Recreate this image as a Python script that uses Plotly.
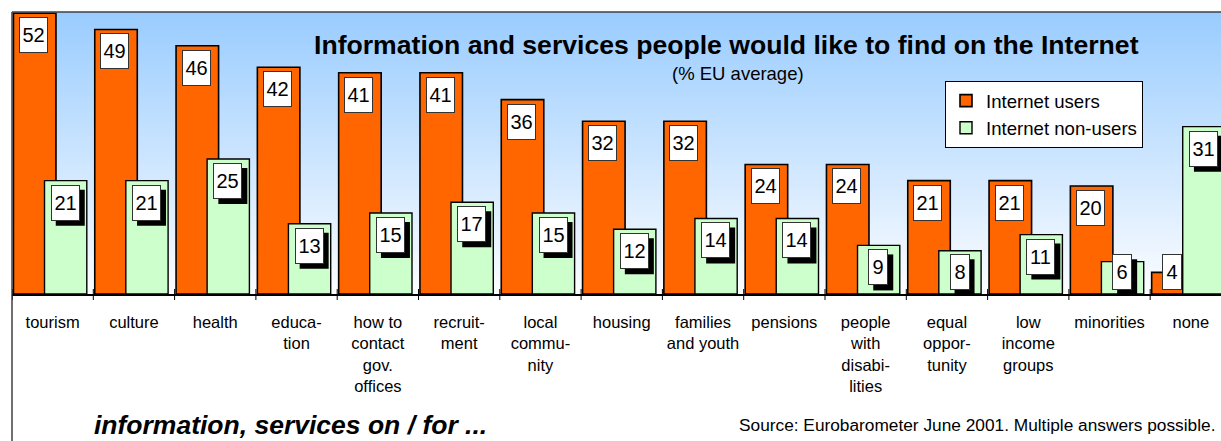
import plotly.graph_objects as go

categories = ["tourism", "culture", "health", "educa-<br>tion", "how to<br>contact<br>gov.<br>offices",
              "recruit-<br>ment", "local<br>commu-<br>nity", "housing", "families<br>and youth",
              "pensions", "people<br>with<br>disabi-<br>lities", "equal<br>oppor-<br>tunity",
              "low<br>income<br>groups", "minorities", "none"]
users = [52, 49, 46, 42, 41, 41, 36, 32, 32, 24, 24, 21, 21, 20, 4]
non_users = [21, 21, 25, 13, 15, 17, 15, 12, 14, 14, 9, 8, 11, 6, 31]

FONT = "Liberation Sans, Arial, sans-serif"
ORANGE = "#FF6600"
GREEN = "#CCFFCC"

W, H = 1221, 441
ML, MR, MT, MB = 12, 0, 12, 147
plot_w = W - ML - MR
plot_h = H - MT - MB
cat_px = 81.3
x_end = -0.5 + plot_w / cat_px
y_top = 52.24

fig = go.Figure()
fig.add_trace(go.Bar(
    x=list(range(len(categories))), y=users, name="Internet users",
    width=0.523, offset=-0.482,
    marker=dict(color=ORANGE, line=dict(color="black", width=1.6)),
    legendgroup="a"))
fig.add_trace(go.Bar(
    x=list(range(len(categories))), y=non_users, name="Internet non-users",
    width=0.52, offset=-0.10,
    marker=dict(color=GREEN, line=dict(color="black", width=1.4)),
    legendgroup="b"))

shapes = []
# gradient background
N = 141
top_c = (153, 204, 255)
bot_c = (252, 253, 255)
for i in range(N):
    t = (i + 0.5) / N
    c = tuple(round(bot_c[k] + (top_c[k] - bot_c[k]) * t) for k in range(3))
    shapes.append(dict(type="rect", xref="paper", yref="paper", x0=0, x1=1,
                       y0=i / N, y1=(i + 1) / N, fillcolor="rgb(%d,%d,%d)" % c,
                       line=dict(width=0), layer="below"))
# frame (left and top)
shapes.append(dict(type="line", xref="paper", yref="paper", x0=0, x1=0, y0=-0.7, y1=1,
                   line=dict(color="#404040", width=1.5)))
shapes.append(dict(type="line", xref="paper", yref="paper", x0=0, x1=1.05, y0=1, y1=1,
                   line=dict(color="#404040", width=1.5)))
# category boundary ticks crossing the axis
for i in range(len(categories) + 1):
    shapes.append(dict(type="line", xref="x", yref="paper", x0=i - 0.5, x1=i - 0.5,
                       y0=-6 / plot_h, y1=5 / plot_h, line=dict(color="black", width=1)))

annotations = []
label_font = dict(family=FONT, size=20, color="black")
BOX_H = 30
PAD = 2


def add_label(xpos, val, shadow):
    ytop = max(val, 8.1)
    tw = 23 if val >= 10 else 14
    outer_w = tw + 2 * PAD + 2
    outer_h = BOX_H + 2 * PAD + 2
    if shadow:
        shapes.append(dict(type="rect", xref="x", yref="y", layer="above",
                           xsizemode="pixel", ysizemode="pixel",
                           xanchor=xpos, yanchor=ytop,
                           x0=-outer_w / 2 + 5, x1=outer_w / 2 + 5,
                           y0=-4 - 5 - outer_h, y1=-4 - 5,
                           fillcolor="black", line=dict(width=0)))
    annotations.append(dict(x=xpos, y=ytop, xref="x", yref="y", text=str(val),
                            showarrow=False, xanchor="center", yanchor="top",
                            yshift=-4, width=tw, height=BOX_H, borderpad=PAD, font=label_font,
                            bgcolor="white", bordercolor="#333333", borderwidth=1))


for i, v in enumerate(users):
    add_label(i - 0.235, v, False)
for i, v in enumerate(non_users):
    add_label(i + 0.155, v, True)

annotations.append(dict(
    x=(726 - ML) / plot_w, y=(294 - 45) / plot_h, xref="paper", yref="paper",
    text="<b>Information and services people would like to find on the Internet</b>",
    showarrow=False, xanchor="center", yanchor="middle",
    font=dict(family=FONT, size=26.6, color="black")))
annotations.append(dict(
    x=(738 - ML) / plot_w, y=(294 - 73) / plot_h, xref="paper", yref="paper",
    text="(% EU average)", showarrow=False, xanchor="center", yanchor="middle",
    font=dict(family=FONT, size=18.5, color="black")))
annotations.append(dict(
    x=(92 - ML) / plot_w, y=(294 - 425) / plot_h, xref="paper", yref="paper",
    text="<b><i>information, services on / for ...</i></b>",
    showarrow=False, xanchor="left", yanchor="middle",
    font=dict(family=FONT, size=26.5, color="black")))
annotations.append(dict(
    x=(1217 - ML) / plot_w, y=(294 - 425) / plot_h, xref="paper", yref="paper",
    text="Source: Eurobarometer June 2001. Multiple answers possible.",
    showarrow=False, xanchor="right", yanchor="middle",
    font=dict(family=FONT, size=17.3, color="black")))

fig.update_layout(
    width=W, height=H,
    margin=dict(l=ML, r=MR, t=MT, b=MB, pad=0),
    paper_bgcolor="white", plot_bgcolor="white",
    barmode="overlay",
    showlegend=True,
    legend=dict(x=(945 - ML) / plot_w, y=(294 - 81) / plot_h, xanchor="left", yanchor="top",
                bgcolor="white", bordercolor="black", borderwidth=1,
                font=dict(family=FONT, size=18.6, color="black"),
                tracegroupgap=5, traceorder="normal"),
    xaxis=dict(range=[-0.5, x_end], tickmode="array", tickvals=list(range(len(categories))),
               ticktext=categories, showgrid=False, zeroline=False,
               showline=True, linecolor="black", linewidth=2, ticks="",
               tickfont=dict(family=FONT, size=16.5, color="black"),
               ticklabelstandoff=12, fixedrange=True),
    yaxis=dict(range=[0, y_top], visible=False, showgrid=False, zeroline=False, fixedrange=True),
    shapes=shapes, annotations=annotations,
    font=dict(family=FONT, color="black"),
)

fig.write_html("out.html")
